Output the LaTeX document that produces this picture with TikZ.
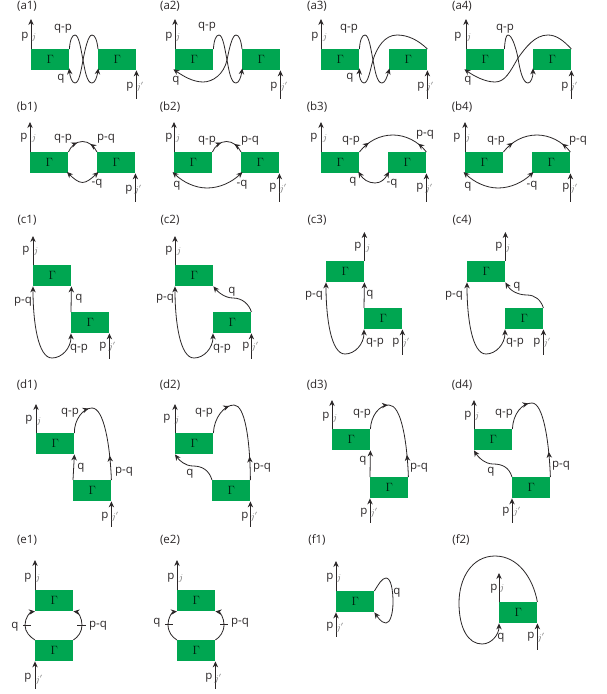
\documentclass[tikz,border=0pt]{standalone}
\usepackage{fontspec}
\setmainfont{Open Sans}
\usetikzlibrary{arrows.meta,decorations.markings}
\definecolor{gam}{HTML}{00A651}
\definecolor{ink}{HTML}{2B2728}
\newcount\labn
\tikzset{
  wire/.style={draw=ink,line width=0.8pt},
  tipin/.style={wire,-{Stealth[length=6pt,width=5.4pt]}},
  tipback/.style={wire,{Stealth[length=6pt,width=5.4pt]}-},
  tipboth/.style={wire,{Stealth[length=6pt,width=5.4pt]}-{Stealth[length=6pt,width=5.4pt]}},
  over/.style={shorten >=-2pt},
  overback/.style={shorten <=-2pt},
  inin/.style 2 args={wire,postaction={decorate},decoration={markings,
     mark=at position #1 with {\arrow{Stealth[length=6pt,width=5.4pt]}},
     mark=at position #2 with {\arrowreversed{Stealth[length=6pt,width=5.4pt]}}}},
  gbox/.style={fill=gam,minimum width=38pt,minimum height=21pt,inner sep=0pt,anchor=north west,text=black!85!gam,font=\fontsize{12}{12}\selectfont},
  txt/.style={text=ink,font=\fontsize{11.5}{12}\selectfont,inner sep=0pt},
  jtxt/.style={text=black!60,font=\fontsize{9}{9}\selectfont,inner sep=0pt},
}
\newcommand{\gbx}[3]{\node[gbox] (#1) at (#2,#3) {$\Gamma$};}
\newcommand{\lab}[3]{\global\advance\labn by 1 \node[txt] (t\the\labn) at (#1,#2) {#3};}
\newcommand{\jlab}[3]{\global\advance\labn by 1 \node[jtxt] (t\the\labn) at (#1,#2) {$#3$};}
% outgoing arrow from top of a box, incoming arrow at the bottom of a box
\newcommand{\pout}[2]{\draw[tipin] (#1) -- ++(0,-#2);}
\newcommand{\pin}[2]{\draw[tipback] (#1) -- ++(0,#2);}
\begin{document}
\begin{tikzpicture}[x=1pt,y=-1pt]
\useasboundingbox (0,0) rectangle (607,694);
\fill[white] (0,0) rectangle (607,694);
% ---------- row a
\lab{27}{6}{(a1)} \lab{170}{6}{(a2)} \lab{317}{6}{(a3)} \lab{462}{6}{(a4)}
\gbx{aoL}{31}{49} \gbx{aoR}{98}{49}
\pout{aoL.north west}{30} \pin{aoR.south east}{29}
\lab{25}{37}{p} \jlab{34}{37}{j} \lab{63}{29}{q-p} \lab{61}{79}{q} \lab{130}{87}{p} \jlab{140}{87}{j'}
\draw[tipin,over] (aoL.north east) .. controls (70,40) and (72,35) .. (75,35) .. controls (79,35) and (81,50) .. (83,60) .. controls (85,71) and (87,83) .. (92,83) .. controls (95,83) and (97,77) .. (aoR.south west);
\draw[tipin,over] (aoR.north west) .. controls (97,40) and (95,35) .. (92,35) .. controls (88,35) and (85,50) .. (83,60) .. controls (81,71) and (79,83) .. (75,83) .. controls (72,83) and (70,77) .. (aoL.south east);

\gbx{atL}{175}{49} \gbx{atR}{242}{49}
\pout{atL.north west}{30} \pin{atR.south east}{29}
\lab{169}{37}{p} \jlab{178}{37}{j} \lab{207}{27}{q-p} \lab{176}{81}{q} \lab{274}{87}{p} \jlab{284}{87}{j'}
\draw[tipin,over] (atL.north east) .. controls (214,40) and (216,35) .. (219,35) .. controls (223,35) and (225,50) .. (227,60) .. controls (229,71) and (231,83) .. (236,83) .. controls (239,83) and (241,77) .. (atR.south west);
\draw[tipin,over] (atR.north west) .. controls (241,40) and (239,35) .. (236,35) .. controls (232,35) and (229,50) .. (227,60) .. controls (224,74) and (213,82) .. (203,82) .. controls (193,82) and (183,76) .. (atL.south west);

\gbx{ahL}{321}{49} \gbx{ahR}{389}{49}
\pout{ahL.north west}{30} \pin{ahR.south east}{29}
\lab{315}{37}{p} \jlab{325}{37}{j} \lab{349}{29}{q-p} \lab{350}{78}{q} \lab{421}{87}{p} \jlab{430}{87}{j'}
\draw[tipin,over] (ahL.north east) .. controls (360,40) and (362,35) .. (365,35) .. controls (369,35) and (371,50) .. (373,60) .. controls (375,71) and (377,83) .. (382,83) .. controls (385,83) and (387,77) .. (ahR.south west);
\draw[tipin,over] (ahR.north east) .. controls (418,40) and (408,35) .. (397,35) .. controls (385,35) and (377,47) .. (373,60) .. controls (370,71) and (368,83) .. (364,83) .. controls (361,83) and (359,77) .. (ahL.south east);

\gbx{afL}{466}{49} \gbx{afR}{533}{49}
\pout{afL.north west}{30} \pin{afR.south east}{29}
\lab{458}{37}{p} \jlab{469}{37}{j} \lab{505}{29}{q-p} \lab{468}{81}{q} \lab{565}{87}{p} \jlab{574}{87}{j'}
\draw[tipin,over] (afL.north east) .. controls (505,40) and (506,35) .. (508,35) .. controls (512,35) and (516,48) .. (518,58) .. controls (520,71) and (523,83) .. (528,83) .. controls (531,83) and (533,77) .. (afR.south west);
\draw[tipin,over] (afR.north east) .. controls (563,40) and (556,35) .. (548,35) .. controls (535,35) and (526,47) .. (518,58) .. controls (510,72) and (505,82) .. (495,82) .. controls (485,82) and (474,76) .. (afL.south west);

% ---------- row b
\lab{27}{107}{(b1)} \lab{170}{107}{(b2)} \lab{317}{107}{(b3)} \lab{462}{107}{(b4)}
\gbx{boL}{30}{152} \gbx{boR}{97}{152}
\pout{boL.north west}{30} \pin{boR.south east}{29}
\lab{24}{138}{p} \jlab{34}{138}{j} \lab{63}{139}{q-p} \lab{106}{139}{p-q} \lab{97}{184}{-q} \lab{129}{190}{p} \jlab{138}{190}{j'}
\draw[inin={.35}{.72}] (boL.north east) .. controls (71,146) and (76,141.5) .. (82.5,141.5) .. controls (89,141.5) and (94,146) .. (boR.north west);
\draw[tipboth,over,overback] (boL.south east) .. controls (73,178) and (78,182.5) .. (82.5,182.5) .. controls (87,182.5) and (92,178) .. (boR.south west);

\gbx{btL}{174}{152} \gbx{btR}{241}{152}
\pout{btL.north west}{30} \pin{btR.south east}{29}
\lab{169}{138}{p} \jlab{178}{138}{j} \lab{207}{141}{q-p} \lab{250}{141}{p-q} \lab{177}{186}{q} \lab{242}{185}{-q} \lab{273}{188}{p} \jlab{283}{189}{j'}
\draw[inin={.35}{.72}] (btL.north east) .. controls (215,146) and (220,141.5) .. (226.5,141.5) .. controls (233,141.5) and (238,146) .. (btR.north west);
\draw[tipboth,over,overback] (btL.south west) .. controls (183,182) and (195,188) .. (207,188) .. controls (220,188) and (232,182) .. (btR.south west);

\gbx{bhL}{321}{152} \gbx{bhR}{388}{152}
\pout{bhL.north west}{30} \pin{bhR.south east}{29}
\lab{314}{138}{p} \jlab{325}{138}{j} \lab{351}{141}{q-p} \lab{425}{135}{p-q} \lab{353}{182}{q} \lab{392}{184}{-q} \lab{420}{188}{p} \jlab{429}{189}{j'}
\draw[inin={.17}{.85}] (bhL.north east) .. controls (368,141) and (380,135) .. (393,135) .. controls (405,135) and (418,141) .. (bhR.north east);
\draw[tipboth,over,overback] (bhL.south east) .. controls (363,179) and (368,183) .. (375,183) .. controls (381,183) and (385,179) .. (bhR.south west);

\gbx{bfL}{465}{152} \gbx{bfR}{532}{152}
\pout{bfL.north west}{30} \pin{bfR.south east}{29}
\lab{457}{138}{p} \jlab{468}{138}{j} \lab{496}{141}{q-p} \lab{578}{141}{p-q} \lab{468}{187}{q} \lab{532}{186}{-q} \lab{566}{188}{p} \jlab{574}{189}{j'}
\draw[inin={.17}{.85}] (bfL.north east) .. controls (512,141) and (524,135) .. (537,135) .. controls (549,135) and (562,141) .. (bfR.north east);
\draw[tipboth,over,overback] (bfL.south west) .. controls (474,182) and (486,188) .. (498,188) .. controls (511,188) and (523,182) .. (bfR.south west);

% ---------- row c
\lab{27}{220}{(c1)} \lab{170}{220}{(c2)} \lab{317}{220}{(c3)} \lab{462}{220}{(c4)}
\gbx{coT}{33}{265} \gbx{coB}{71}{312}
\pout{coT.north west}{29} \pin{coB.south east}{26}
\draw[tipin] (coB.north west) -- (coT.south east);
\lab{26}{251}{p} \jlab{36}{251}{j} \lab{79}{299}{q} \lab{23}{302}{p-q} \lab{79}{349}{q-p} \lab{103}{347}{p} \jlab{112}{347}{j'}
\draw[tipboth] (coT.south west) .. controls (33,322) and (38,358) .. (52,358) .. controls (62,358) and (71,348) .. (coB.south west);

\gbx{ctT}{175}{265} \gbx{ctB}{213}{312}
\pout{ctT.north west}{29} \pin{ctB.south east}{26}
\lab{169}{251}{p} \jlab{179}{251}{j} \lab{232}{292}{q} \lab{165}{299}{p-q} \lab{222}{349}{q-p} \lab{246}{347}{p} \jlab{255}{347}{j'}
\draw[tipboth] (ctT.south west) .. controls (175,322) and (180,358) .. (194,358) .. controls (204,358) and (213,348) .. (ctB.south west);
\draw[tipin] (ctB.north east) .. controls (249,304) and (242,298) .. (233,298) .. controls (225,298) and (218,292) .. (ctT.south east);

\gbx{chT}{326}{261} \gbx{chB}{364}{308}
\pout{chT.north east}{29} \pin{chB.south east}{26}
\draw[tipin] (chB.north west) -- (chT.south east);
\lab{358}{247}{p} \jlab{368}{248}{j} \lab{370}{295}{q} \lab{314}{296}{p-q} \lab{375}{343}{q-p} \lab{396}{343}{p} \jlab{406}{343}{j'}
\draw[tipboth] (chT.south west) .. controls (326,318) and (331,354) .. (345,354) .. controls (355,354) and (364,344) .. (chB.south west);

\gbx{cfT}{467}{261} \gbx{cfB}{505}{308}
\pout{cfT.north east}{29} \pin{cfB.south east}{26}
\lab{499}{247}{p} \jlab{508}{248}{j} \lab{517}{287}{q} \lab{454}{296}{p-q} \lab{515}{343}{q-p} \lab{537}{343}{p} \jlab{547}{343}{j'}
\draw[tipboth] (cfT.south west) .. controls (467,318) and (472,354) .. (486,354) .. controls (496,354) and (505,344) .. (cfB.south west);
\draw[tipin] (cfB.north east) .. controls (541,300) and (535,295) .. (527,295) .. controls (517,295) and (510,290) .. (cfT.south east);

% ---------- row d
\lab{27}{385}{(d1)} \lab{170}{385}{(d2)} \lab{317}{385}{(d3)} \lab{462}{385}{(d4)}
\gbx{doT}{36}{433} \gbx{doB}{73}{480}
\pout{doT.north west}{29} \pin{doB.south east}{26}
\draw[tipin] (doB.north west) -- (doT.south east);
\lab{29}{420}{p} \jlab{39}{421}{j} \lab{70}{413}{q-p} \lab{124}{472}{p-q} \lab{81}{468}{q} \lab{105}{517}{p} \jlab{115}{517}{j'}
\draw[inin={.27}{.78}] (doT.north east) .. controls (74,420) and (83,408) .. (92,408) .. controls (104,408) and (110,445) .. (doB.north east);

\gbx{dtT}{175}{433} \gbx{dtB}{212}{480}
\pout{dtT.north west}{29} \pin{dtB.south east}{26}
\lab{167}{419}{p} \jlab{177}{420}{j} \lab{204}{413}{q-p} \lab{262}{468}{p-q} \lab{190}{474}{q} \lab{245}{517}{p} \jlab{254}{517}{j'}
\draw[inin={.28}{.8}] (dtT.north east) .. controls (214,418) and (224,405) .. (234,405) .. controls (245,405) and (250,440) .. (dtB.north east);
\draw[tipin] (dtB.north west) .. controls (209,470) and (202,466) .. (193,466) .. controls (185,466) and (179,460) .. (dtT.south west);

\gbx{dhT}{332}{429} \gbx{dhB}{370}{477}
\pout{dhT.north west}{29} \pin{dhB.south west}{25}
\draw[tipin] (dhB.north west) -- (dhT.south east);
\lab{326}{417}{p} \jlab{335}{418}{j} \lab{362}{414}{q-p} \lab{419}{468}{p-q} \lab{363}{461}{q} \lab{364}{513}{p} \jlab{374}{513}{j'}
\draw[inin={.29}{.8}] (dhT.north east) .. controls (371,416) and (379,405) .. (389,405) .. controls (401,405) and (407,440) .. (dhB.north east);

\gbx{dfT}{474}{429} \gbx{dfB}{512}{477}
\pout{dfT.north west}{29} \pin{dfB.south west}{25}
\lab{468}{416}{p} \jlab{477}{416}{j} \lab{504}{414}{q-p} \lab{561}{466}{p-q} \lab{491}{472}{q} \lab{506}{512}{p} \jlab{517}{512}{j'}
\draw[inin={.28}{.78}] (dfT.north east) .. controls (513,414) and (522,403) .. (532,403) .. controls (543,403) and (549,440) .. (dfB.north east);
\draw[tipin] (dfB.north west) .. controls (509,467) and (502,464) .. (493,464) .. controls (485,464) and (478,457) .. (dfT.south west);

% ---------- row e, f
\lab{27}{540}{(e1)} \lab{170}{540}{(e2)} \lab{317}{540}{(f1)} \lab{461}{540}{(f2)}
\gbx{eoT}{35}{590} \gbx{eoB}{35}{640}
\pout{eoT.north west}{30} \pin{eoB.south west}{28}
\lab{15}{627}{q} \lab{98}{626}{p-q} \lab{28}{578}{p} \jlab{38}{578}{j} \lab{28}{678}{p} \jlab{39}{680}{j'}
\draw[tipin] (eoB.north west) .. controls (30,637) and (25,632) .. (25,625) .. controls (25,618) and (30,612) .. (eoT.south west);
\draw[tipin] (eoB.north east) .. controls (78,637) and (82,632) .. (82,625) .. controls (82,618) and (78,612) .. (eoT.south east);
\draw[wire] (23,625) -- (31,625);
\draw[wire] (77,625) -- (86,625);

\gbx{etT}{177}{590} \gbx{etB}{177}{640}
\pout{etT.north west}{30} \pin{etB.south east}{28}
\lab{157}{623}{q} \lab{240}{623}{p-q} \lab{171}{578}{p} \jlab{181}{578}{j} \lab{209}{678}{p} \jlab{218}{679}{j'}
\draw[tipin] (etB.north west) .. controls (172,637) and (168,632) .. (168,624.5) .. controls (168,618) and (172,612) .. (etT.south west);
\draw[tipin] (etB.north east) .. controls (220,637) and (224,632) .. (224,624.5) .. controls (224,618) and (220,612) .. (etT.south east);
\draw[wire] (165,624.5) -- (173,624.5);
\draw[wire] (220,624.5) -- (228,624.5);

\gbx{foB}{336}{591}
\pout{foB.north west}{30} \pin{foB.south west}{25}
\lab{397}{593}{q} \lab{330}{578}{p} \jlab{339}{578}{j} \lab{330}{627}{p} \jlab{340}{628}{j'}
\draw[tipin] (foB.north east) .. controls (378,585) and (382,578) .. (386,578) .. controls (391,578) and (393,590) .. (393,602) .. controls (393,614) and (390,623) .. (386,623) .. controls (381,623) and (377,616) .. (foB.south east);

\gbx{ftB}{499}{602}
\pout{ftB.north west}{29} \pin{ftB.south east}{27}
\lab{501}{638}{q} \lab{494}{589}{p} \jlab{502}{588}{j} \lab{531}{637}{p} \jlab{541}{638}{j'}
\draw[tipin] (ftB.north east) .. controls (533,578) and (518,556) .. (495,556) .. controls (472,556) and (459,578) .. (459,603) .. controls (459,628) and (468,644) .. (482,644) .. controls (492,644) and (499,634) .. (ftB.south west);
\end{tikzpicture}
\end{document}
